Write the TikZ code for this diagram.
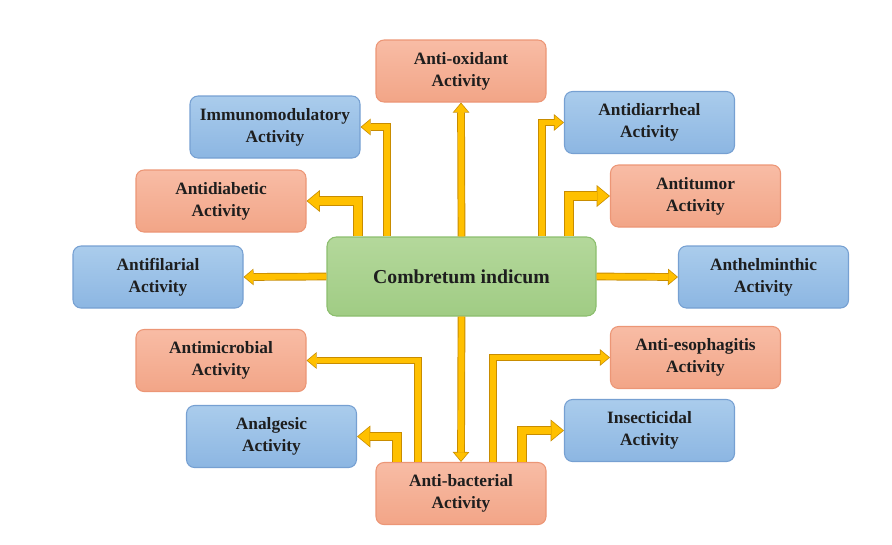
\documentclass[tikz,border=0pt]{standalone}
\usepackage{fontspec}
\setmainfont{Liberation Serif}
\usetikzlibrary{arrows.meta,calc}
\definecolor{salT}{RGB}{248,188,165}
\definecolor{salB}{RGB}{242,165,135}
\definecolor{salD}{RGB}{236,150,118}
\definecolor{bluT}{RGB}{170,204,236}
\definecolor{bluB}{RGB}{140,182,226}
\definecolor{bluD}{RGB}{118,160,210}
\definecolor{grnT}{RGB}{180,216,155}
\definecolor{grnB}{RGB}{160,204,132}
\definecolor{grnD}{RGB}{140,190,110}
\definecolor{gold}{RGB}{255,192,0}
\definecolor{goldD}{RGB}{200,140,0}
\definecolor{txt}{RGB}{30,30,30}
\tikzset{
  actbox/.style={rounded corners=6pt, minimum width=127.5pt, minimum height=46.5pt,
    align=center, text=txt, line width=0.8pt,
    font=\bfseries\fontsize{13}{16.5}\selectfont},
  salbox/.style={actbox, draw=salD, top color=salT, bottom color=salB},
  blubox/.style={actbox, draw=bluD, top color=bluT, bottom color=bluB},
  mainbox/.style={rounded corners=7pt, minimum width=201.75pt, minimum height=59.25pt,
    align=center, text=txt, line width=0.8pt, draw=grnD, top color=grnT, bottom color=grnB,
    font=\bfseries\fontsize{14.8}{17}\selectfont},
  thinO/.style={draw=goldD, line width=5.8pt, line join=miter,
    -{Triangle[width=12.5pt,length=7.5pt,line width=0pt]}},
  thinI/.style={draw=gold, line width=4.4pt, line join=miter, shorten >=0.9pt,
    -{Triangle[width=10.3pt,length=6.1pt,line width=0pt]}},
  thickO/.style={draw=goldD, line width=7.2pt, line join=miter,
    -{Triangle[width=16.5pt,length=10pt,line width=0pt]}},
  thickI/.style={draw=gold, line width=5.8pt, line join=miter, shorten >=0.9pt,
    -{Triangle[width=14.1pt,length=8.5pt,line width=0pt]}},
}
\begin{document}
\begin{tikzpicture}[x=0.75pt,y=-0.75pt]
\useasboundingbox (0,0) rectangle (892,544);
\node[mainbox] (main) at (461.5,276.5) {Combretum indicum};
\node[salbox] (oxi) at (461,71) {Anti-oxidant\\Activity};
\node[blubox] (imm) at (275,127) {Immunomodulatory\\Activity};
\node[blubox] (dia) at (649.5,122.5) {Antidiarrheal\\Activity};
\node[salbox] (diab) at (221,201) {Antidiabetic\\Activity};
\node[salbox] (tum) at (695.5,196) {Antitumor\\Activity};
\node[blubox] (fil) at (158,277) {Antifilarial\\Activity};
\node[blubox] (ant) at (763.5,277) {Anthelminthic\\Activity};
\node[salbox] (mic) at (221,360.5) {Antimicrobial\\Activity};
\node[salbox] (eso) at (695.5,357.5) {Anti-esophagitis\\Activity};
\node[blubox] (ana) at (271.5,436.5) {Analgesic\\Activity};
\node[blubox] (ins) at (649.5,430.5) {Insecticidal\\Activity};
\node[salbox] (bac) at (461,493.5) {Anti-bacterial\\Activity};
\coordinate (xImm) at (387,0);
\coordinate (xDiab) at (358,0);
\coordinate (xDia) at (542,0);
\coordinate (xTum) at (569,0);
\coordinate (xMic) at (418,0);
\coordinate (xAna) at (397,0);
\coordinate (xEso) at (493,0);
\coordinate (xIns) at (522,0);
% arrows
\foreach \s in {thinO,thinI}{
  \draw[\s] (main.north) -- (oxi.south);
  \draw[\s] (main.south) -- (bac.north);
  \draw[\s] (main.west) -- (fil.east);
  \draw[\s] (main.east) -- (ant.west);
  \draw[\s] (xImm |- main.north) |- (imm.east);
  \draw[\s] (xDia |- main.north) |- (dia.west);
  \draw[\s] (xMic |- bac.north) |- (mic.east);
  \draw[\s] (xEso |- bac.north) |- (eso.west);
}
\foreach \s in {thickO,thickI}{
  \draw[\s] (xDiab |- main.north) |- (diab.east);
  \draw[\s] (xTum |- main.north) |- (tum.west);
  \draw[\s] (xAna |- bac.north) |- (ana.east);
  \draw[\s] (xIns |- bac.north) |- (ins.west);
}
\end{tikzpicture}
\end{document}
